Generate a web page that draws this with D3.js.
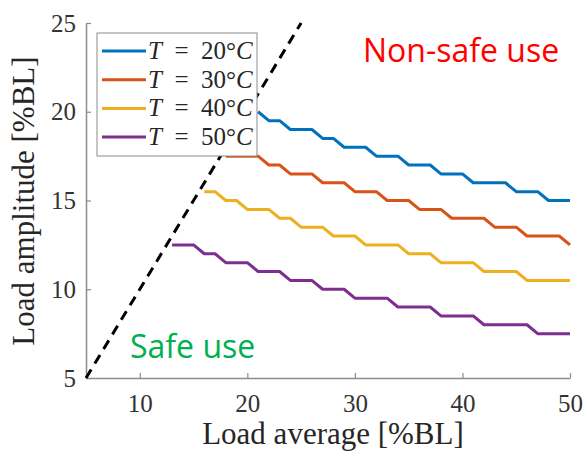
<!DOCTYPE html>
<html>
<head>
<meta charset="utf-8">
<script src="https://cdn.jsdelivr.net/npm/d3@7"></script>
<style>
  body { margin: 0; background: #fff; }
  svg { display: block; }
</style>
</head>
<body>
<script>
// data
let temps = ["20", "30", "40", "50"];
let colors = ["#0072BD", "#D95319", "#EDB120", "#7E2F8E"];

let avg20 = [21, 22, 23, 24, 25, 26, 27, 28, 29, 30, 31, 32, 33, 34, 35, 36, 37, 38, 39, 40, 41, 42, 43, 44, 45, 46, 47, 48, 49, 50];
let amp20 = [20, 19.5, 19.5, 19, 19, 19, 18.5, 18.5, 18, 18, 18, 17.5, 17.5, 17.5, 17, 17, 17, 16.5, 16.5, 16.5, 16, 16, 16, 16, 15.5, 15.5, 15.5, 15, 15, 15];

let avg30 = [18, 19, 20, 21, 22, 23, 24, 25, 26, 27, 28, 29, 30, 31, 32, 33, 34, 35, 36, 37, 38, 39, 40, 41, 42, 43, 44, 45, 46, 47, 48, 49, 50];
let amp30 = [17.5, 17.5, 17.5, 17.5, 17, 17, 16.5, 16.5, 16.5, 16, 16, 16, 15.5, 15.5, 15.5, 15, 15, 15, 14.5, 14.5, 14.5, 14, 14, 14, 14, 13.5, 13.5, 13.5, 13, 13, 13, 13, 12.5];

let avg40 = [16, 17, 18, 19, 20, 21, 22, 23, 24, 25, 26, 27, 28, 29, 30, 31, 32, 33, 34, 35, 36, 37, 38, 39, 40, 41, 42, 43, 44, 45, 46, 47, 48, 49, 50];
let amp40 = [15.5, 15.5, 15, 15, 14.5, 14.5, 14.5, 14, 14, 13.5, 13.5, 13.5, 13, 13, 13, 12.5, 12.5, 12.5, 12.5, 12, 12, 12, 11.5, 11.5, 11.5, 11.5, 11, 11, 11, 11, 10.5, 10.5, 10.5, 10.5, 10.5];

let avg50 = [13, 14, 15, 16, 17, 18, 19, 20, 21, 22, 23, 24, 25, 26, 27, 28, 29, 30, 31, 32, 33, 34, 35, 36, 37, 38, 39, 40, 41, 42, 43, 44, 45, 46, 47, 48, 49, 50];
let amp50 = [12.5, 12.5, 12.5, 12, 12, 11.5, 11.5, 11.5, 11, 11, 11, 10.5, 10.5, 10.5, 10, 10, 10, 9.5, 9.5, 9.5, 9.5, 9, 9, 9, 9, 8.5, 8.5, 8.5, 8.5, 8, 8, 8, 8, 8, 7.5, 7.5, 7.5, 7.5];

// safe limit: amplitude = average
let limitAvg = [5, 25];
let limitAmp = [5, 25];

let xTicks = [10, 20, 30, 40, 50];
let yTicks = [5, 10, 15, 20, 25];

let series = [
    { t: temps[0], color: colors[0], x: avg20, y: amp20 },
    { t: temps[1], color: colors[1], x: avg30, y: amp30 },
    { t: temps[2], color: colors[2], x: avg40, y: amp40 },
    { t: temps[3], color: colors[3], x: avg50, y: amp50 }
];

let width = 585, height = 456;
let plotLeft = 86, plotRight = 570, plotTop = 23, plotBottom = 378;

let xScale = d3.scaleLinear().domain([5, 50]).range([plotLeft, plotRight]);
let yScale = d3.scaleLinear().domain([5, 25]).range([plotBottom, plotTop]);

let svg = d3.select("body").append("svg")
    .attr("width", width).attr("height", height);

let serif = "'Liberation Serif', 'DejaVu Serif', serif";
let axisColor = "#8c8c8c";

// axes
let xAxis = svg.append("g")
    .attr("transform", "translate(0," + plotBottom + ")")
    .call(d3.axisBottom(xScale).tickValues(xTicks).tickSizeInner(-5).tickSizeOuter(0).tickPadding(16));
let yAxis = svg.append("g")
    .attr("transform", "translate(" + plotLeft + ",0)")
    .call(d3.axisLeft(yScale).tickValues(yTicks).tickSizeInner(-5).tickSizeOuter(0).tickPadding(10));

[xAxis, yAxis].forEach(function (ax) {
    ax.select(".domain").attr("stroke", axisColor).attr("stroke-width", 1.5);
    ax.selectAll(".tick line").attr("stroke", axisColor).attr("stroke-width", 1.2);
    ax.selectAll(".tick text")
        .attr("fill", "#333")
        .style("font-family", serif)
        .style("font-size", "25px");
});

// step curves
let line = d3.line()
    .x(function (d) { return xScale(d[0]); })
    .y(function (d) { return yScale(d[1]); });

series.forEach(function (s) {
    svg.append("path")
        .datum(s.x.map(function (v, i) { return [v, s.y[i]]; }))
        .attr("d", line)
        .attr("fill", "none")
        .attr("stroke", s.color)
        .attr("stroke-width", 3)
        .attr("stroke-linejoin", "round");
});

// dashed limit line
svg.append("path")
    .datum(limitAvg.map(function (v, i) { return [v, limitAmp[i]]; }))
    .attr("d", line)
    .attr("fill", "none")
    .attr("stroke", "#000")
    .attr("stroke-width", 3)
    .attr("stroke-dasharray", "10,7");

// legend
let legend = svg.append("g").attr("transform", "translate(97,33)");
legend.append("rect")
    .attr("width", 160).attr("height", 123)
    .attr("fill", "#fff")
    .attr("stroke", "#8c8c8c")
    .attr("stroke-width", 1);

series.forEach(function (s, i) {
    let yy = 18 + i * 28.7;
    legend.append("line")
        .attr("x1", 5).attr("x2", 49)
        .attr("y1", yy).attr("y2", yy)
        .attr("stroke", s.color)
        .attr("stroke-width", 3);
    let txt = legend.append("text")
        .attr("x", 51).attr("y", yy + 8)
        .attr("fill", "#262626")
        .style("font-family", serif)
        .style("font-size", "25px");
    txt.append("tspan").style("font-style", "italic").text("T");
    txt.append("tspan").text("\u2002=\u2002" + s.t + "°");
    txt.append("tspan").style("font-style", "italic").text("C");
});

// axis titles
svg.append("text")
    .attr("x", 333).attr("y", 444)
    .attr("text-anchor", "middle")
    .attr("fill", "#262626")
    .style("font-family", serif)
    .style("font-size", "31px")
    .text("Load average [%BL]");

svg.append("text")
    .attr("transform", "translate(34,201) rotate(-90)")
    .attr("text-anchor", "middle")
    .attr("fill", "#262626")
    .style("font-family", serif)
    .style("font-size", "31px")
    .text("Load amplitude [%BL]");

// region annotations
svg.append("text")
    .attr("x", 363).attr("y", 62)
    .attr("fill", "#ff0000")
    .style("font-family", "'Open Sans', sans-serif")
    .style("font-size", "32px")
    .text("Non-safe use");

svg.append("text")
    .attr("x", 130).attr("y", 358)
    .attr("fill", "#00b050")
    .style("font-family", "'Open Sans', sans-serif")
    .style("font-size", "32px")
    .text("Safe use");
</script>
</body>
</html>
